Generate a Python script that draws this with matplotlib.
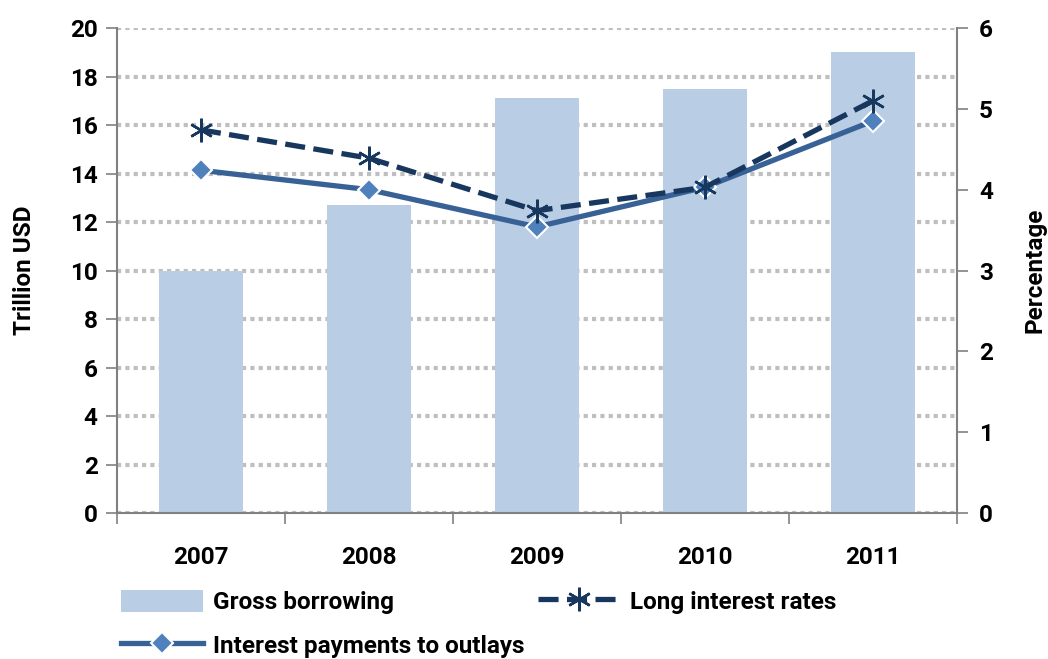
import numpy as np
import matplotlib
matplotlib.use("Agg")
import matplotlib.pyplot as plt

plt.rcParams['font.family'] = ['Roboto', 'DejaVu Sans']
plt.rcParams['font.weight'] = 'bold'

years = ["2007", "2008", "2009", "2010", "2011"]
gross_borrowing = [10.0, 12.7, 17.1, 17.5, 19.0]      # trillion USD
long_rates = [4.74, 4.39, 3.74, 4.03, 5.10]           # percent
interest_to_outlays = [4.24, 4.0, 3.54, 4.03, 4.85]   # percent

fs = 17.5
fig = plt.figure(figsize=(10.48, 6.59), dpi=100)
ax = fig.add_axes([0.1116, 0.2215, 0.8015, 0.736])
x = np.arange(len(years))

bars = ax.bar(x, gross_borrowing, width=0.5, color='#B9CDE5', zorder=2,
              label='Gross borrowing')
ax.set_xlim(-0.5, 4.5)
ax.set_ylim(0, 20)
ax.set_yticks(np.arange(0, 21, 2))
ax.yaxis.grid(True, color='#BFBFBF', linestyle=(0, (1, 1)), linewidth=3, zorder=0)
ax.set_axisbelow(True)
ax.set_xticks(np.arange(-0.5, 5, 1))
ax.set_xticklabels([])
ax.set_xticks(x, minor=True)
ax.set_xticklabels(years, minor=True)
ax.tick_params(axis='x', which='major', length=8, color='#808080', width=1.2)
ax.tick_params(axis='x', which='minor', length=0, pad=24, labelsize=fs)
ax.tick_params(axis='y', length=8, color='#808080', width=1.2, labelsize=fs, pad=6)
ax.set_ylabel('Trillion USD', fontsize=fs, fontweight='bold', labelpad=24)
for s in ['top', 'right']:
    ax.spines[s].set_visible(False)
for s in ['left', 'bottom']:
    ax.spines[s].set_color('#808080')
    ax.spines[s].set_linewidth(1.5)

ax2 = ax.twinx()
ax2.set_ylim(0, 6)
ax2.set_yticks(range(0, 7))
ax2.tick_params(axis='y', length=8, color='#808080', width=1.2, labelsize=fs, pad=8)
for s in ['top', 'left', 'bottom']:
    ax2.spines[s].set_visible(False)
ax2.spines['right'].set_color('#808080')
ax2.spines['right'].set_linewidth(1.5)
ax2.set_ylabel('Percentage', fontsize=fs, fontweight='bold', labelpad=22)

l2, = ax2.plot(x, interest_to_outlays, color='#386196', linewidth=3.8,
               marker='D', markersize=11, markerfacecolor='#4F81BD',
               markeredgecolor='white', markeredgewidth=1.5, zorder=3,
               label='Interest payments to outlays')
l1, = ax2.plot(x, long_rates, color='#17375E', linewidth=3.8,
               linestyle=(0, (3.8, 1.6)), marker=(6, 2, 0), markersize=17,
               markeredgewidth=1.8, markeredgecolor='#17375E', zorder=4,
               label='Long interest rates')

leg_kw = dict(loc='upper left', frameon=False, fontsize=fs, handlelength=3.4,
              handleheight=1.0, labelspacing=0.8, handletextpad=0.4,
              borderaxespad=0, borderpad=0)
leg1 = fig.legend([bars, l2], ['Gross borrowing', 'Interest payments to outlays'],
                  bbox_to_anchor=(0.115, 0.105), **leg_kw)
leg2 = fig.legend([l1], ['Long interest rates'],
                  bbox_to_anchor=(0.513, 0.105), **leg_kw)

fig.savefig('out.png', dpi=100)
